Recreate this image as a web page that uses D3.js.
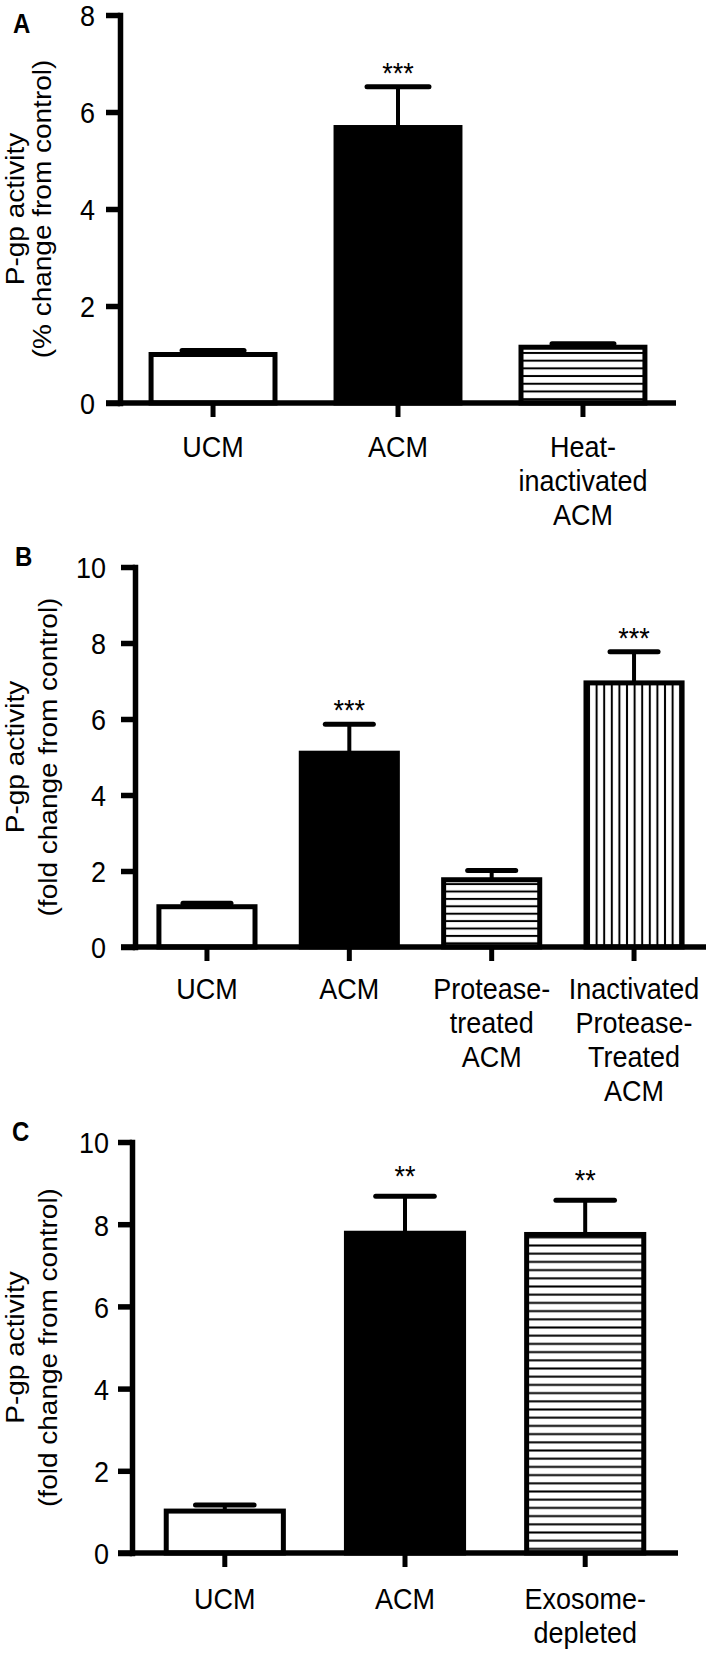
<!DOCTYPE html>
<html>
<head>
<meta charset="utf-8">
<script src="https://cdn.jsdelivr.net/npm/d3@7"></script>
<style>
  body { margin: 0; background: #fff; }
  svg { display: block; font-family: "Liberation Sans", Arial, Helvetica, sans-serif; }
</style>
</head>
<body>
<svg id="fig" width="709" height="1654"></svg>
<script>
// ---- data ----
// A
var groupsA = ["UCM", "ACM", "Heat-\ninactivated\nACM"];
var meansA = [1.0, 5.68, 1.15];
var semA = [0.08, 0.84, 0.07];
var starsA = ["", "***", ""];
var ticksA = [0, 2, 4, 6, 8];
var titleA = ["P-gp activity", "(% change from control)"];

// B
var groupsB = ["UCM", "ACM", "Protease-\ntreated\nACM", "Inactivated\nProtease-\nTreated\nACM"];
var meansB = [1.06, 5.1, 1.77, 6.95];
var semB = [0.09, 0.76, 0.24, 0.82];
var starsB = ["", "***", "", "***"];
var ticksB = [0, 2, 4, 6, 8, 10];
var titleB = ["P-gp activity", "(fold change from control)"];

// C
var groupsC = ["UCM", "ACM", "Exosome-\ndepleted"];
var meansC = [1.02, 7.78, 7.75];
var semC = [0.15, 0.9, 0.83];
var starsC = ["", "**", "**"];
var ticksC = [0, 2, 4, 6, 8, 10];
var titleC = ["P-gp activity", "(fold change from control)"];

// the original figure is a little taller than wide, text included
var S = 1.12;

var svg = d3.select("#fig");
var defs = svg.append("defs");

// striped fills (horizontal or vertical lines)
function hatch(id, gap, vertical, y0) {
  var w = vertical ? gap : 20, h = vertical ? 20 : gap;
  var pat = defs.append("pattern")
    .attr("id", id)
    .attr("patternUnits", "userSpaceOnUse")
    .attr("width", w).attr("height", h)
    .attr("patternTransform", "translate(0," + y0 + ")");
  pat.append("rect").attr("width", w).attr("height", h).attr("fill", "#fff");
  if (vertical) {
    pat.append("line").attr("x1", gap / 2).attr("x2", gap / 2).attr("y1", 0).attr("y2", h)
      .attr("stroke", "#000").attr("stroke-width", 2);
  } else {
    pat.append("line").attr("x1", 0).attr("x2", w).attr("y1", gap / 2).attr("y2", gap / 2)
      .attr("stroke", "#000").attr("stroke-width", 2);
  }
}
hatch("hA", 7.7, false, 403);
hatch("hB", 7.4, false, 947);
hatch("vB", 7.6, true, 0);
hatch("hC", 8.2, false, 1553);

function drawPanel(p) {
  var x = d3.scaleBand().domain(p.groups).range([p.left, p.right])
    .paddingInner(p.padIn).paddingOuter(p.padOut);
  var y = d3.scaleLinear().domain([0, p.max]).range([p.bottom, p.top]);
  var bw = x.bandwidth();

  var rows = p.groups.map(function(d, i) {
    return { name: d, mean: p.means[i], sem: p.sem[i], star: p.stars[i], fill: p.fills[i] };
  });

  var g = svg.append("g");

  g.selectAll("rect.bar").data(rows).enter().append("rect")
    .attr("class", "bar")
    .attr("x", function(d) { return x(d.name); })
    .attr("width", bw)
    .attr("y", function(d) { return y(d.mean); })
    .attr("height", function(d) { return y(0) - y(d.mean); })
    .attr("fill", function(d) { return d.fill; })
    .attr("stroke", "#000")
    .attr("stroke-width", 5);

  // error bars (upper only)
  g.selectAll("line.stem").data(rows).enter().append("line")
    .attr("class", "stem")
    .attr("x1", function(d) { return x(d.name) + bw / 2; })
    .attr("x2", function(d) { return x(d.name) + bw / 2; })
    .attr("y1", function(d) { return y(d.mean); })
    .attr("y2", function(d) { return y(d.mean + d.sem); })
    .attr("stroke", "#000").attr("stroke-width", 4);

  g.selectAll("line.cap").data(rows).enter().append("line")
    .attr("class", "cap")
    .attr("x1", function(d) { return x(d.name) + bw / 4; })
    .attr("x2", function(d) { return x(d.name) + bw * 3 / 4; })
    .attr("y1", function(d) { return y(d.mean + d.sem); })
    .attr("y2", function(d) { return y(d.mean + d.sem); })
    .attr("stroke", "#000").attr("stroke-width", 5).attr("stroke-linecap", "round");

  g.selectAll("text.star").data(rows).enter().append("text")
    .attr("class", "star")
    .attr("transform", function(d) {
      return "translate(" + (x(d.name) + bw / 2) + "," + (y(d.mean + d.sem) - p.starGap) + ") scale(1," + S + ")";
    })
    .attr("text-anchor", "middle")
    .attr("font-size", 27)
    .text(function(d) { return d.star; });

  // y axis
  var ya = g.append("g")
    .attr("transform", "translate(" + p.left + ",0)")
    .call(d3.axisLeft(y).tickValues(p.ticks).tickSize(14).tickSizeOuter(0)
      .tickPadding(p.tickPad).tickFormat(d3.format("d")));
  ya.attr("font-family", null).attr("font-size", 27);
  ya.select(".domain").attr("stroke-width", 5.5).attr("stroke-linecap", "square");
  ya.selectAll(".tick line").attr("stroke-width", 5.5);
  ya.selectAll(".tick text").attr("fill", "#000").attr("dy", "0.36em")
    .attr("transform", "scale(1," + S + ")");

  // x axis
  var xa = g.append("g")
    .attr("transform", "translate(0," + p.bottom + ")")
    .call(d3.axisBottom(x).tickSize(14).tickSizeOuter(0));
  xa.attr("font-family", null).attr("font-size", 27);
  xa.select(".domain").remove();
  xa.append("line")
    .attr("x1", p.left - 14).attr("x2", p.right)
    .attr("stroke", "#000").attr("stroke-width", 5.5);
  xa.selectAll(".tick line").attr("stroke-width", 5);
  xa.selectAll(".tick text").each(function(d) {
    var t = d3.select(this).text(null).attr("dy", null)
      .attr("y", p.labelY / S).attr("fill", "#000")
      .attr("transform", "scale(1," + S + ")");
    d.split("\n").forEach(function(line, i) {
      t.append("tspan").attr("x", 0).attr("dy", i ? 34 / S : 0).text(line);
    });
  });

  // y title, two lines, rotated
  var title = g.append("text")
    .attr("transform", "translate(" + p.titleX + "," + (p.top + p.bottom) / 2 + ") scale(1," + S + ") rotate(-90)")
    .attr("text-anchor", "middle")
    .attr("font-size", 25);
  p.title.forEach(function(line, i) {
    title.append("tspan").attr("x", 0).attr("y", i * p.titleGap).text(line);
  });

  // panel letter
  g.append("text")
    .attr("transform", "translate(" + p.letterX + "," + p.letterY + ") scale(1," + S + ")")
    .attr("font-size", 24).attr("font-weight", "bold")
    .text(p.letter);
}

drawPanel({
  letter: "A", letterX: 13, letterY: 33,
  groups: groupsA, means: meansA, sem: semA, stars: starsA, ticks: ticksA, title: titleA,
  fills: ["#fff", "#000", "url(#hA)"],
  max: 8, left: 120, right: 676, top: 15, bottom: 403,
  padIn: 0.33, padOut: 0.168, tickPad: 11, starGap: 4,
  labelY: 54, titleX: 23.5, titleGap: 28
});

drawPanel({
  letter: "B", letterX: 15, letterY: 566,
  groups: groupsB, means: meansB, sem: semB, stars: starsB, ticks: ticksB, title: titleB,
  fills: ["#fff", "#000", "url(#hB)", "url(#vB)"],
  max: 10, left: 135, right: 706, top: 567, bottom: 947,
  padIn: 0.325, padOut: 0.168, tickPad: 15, starGap: 4,
  labelY: 52, titleX: 23.5, titleGap: 34
});

drawPanel({
  letter: "C", letterX: 12, letterY: 1141,
  groups: groupsC, means: meansC, sem: semC, stars: starsC, ticks: ticksC, title: titleC,
  fills: ["#fff", "#000", "url(#hC)"],
  max: 10, left: 132, right: 678, top: 1142, bottom: 1553,
  padIn: 0.35, padOut: 0.19, tickPad: 9, starGap: 10,
  labelY: 56, titleX: 23.5, titleGap: 34
});
</script>
</body>
</html>
